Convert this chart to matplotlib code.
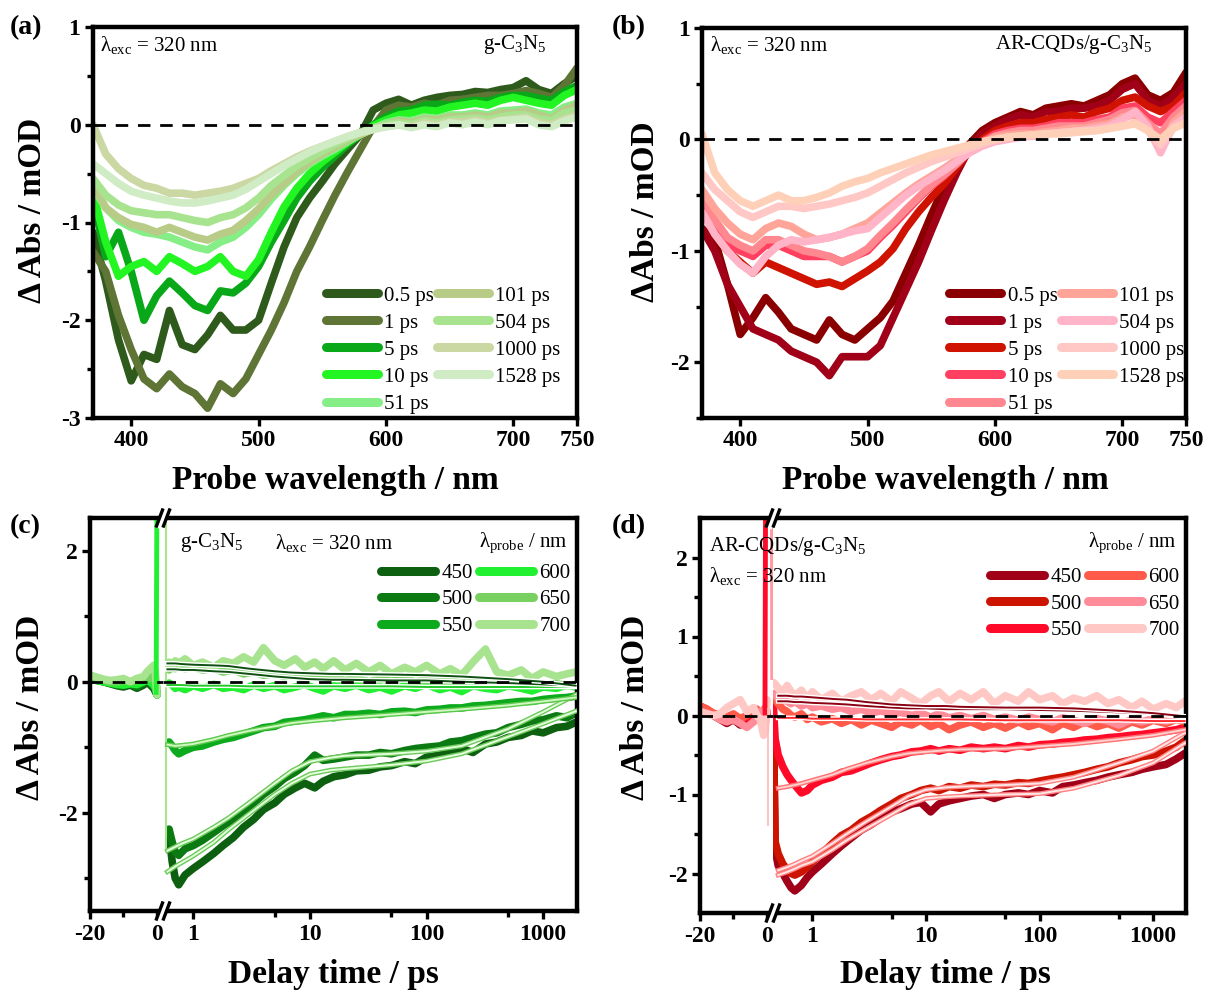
import numpy as np
import matplotlib
matplotlib.use('Agg')
from matplotlib import pyplot as plt
from matplotlib.lines import Line2D
from matplotlib.ticker import MultipleLocator, NullFormatter
import matplotlib.patheffects as pe

plt.rcParams['font.family'] = 'Liberation Serif'
plt.rcParams['font.weight'] = 'bold'
plt.rcParams['mathtext.fontset'] = 'custom'
plt.rcParams['mathtext.rm'] = 'Liberation Serif:weight=normal'
plt.rcParams['mathtext.it'] = 'Liberation Serif:italic:weight=normal'
plt.rcParams['mathtext.bf'] = 'Liberation Serif:bold'
plt.rcParams['axes.unicode_minus'] = False

# ---------------- spectra (a), (b) ----------------
wl = np.arange(370, 751, 10)
delay_labels = ['0.5 ps', '1 ps', '5 ps', '10 ps', '51 ps', '101 ps', '504 ps', '1000 ps', '1528 ps']

a_05 = [-1.1, -1.6, -2.2, -2.62, -2.35, -2.4, -1.9, -2.25, -2.3, -2.15,
        -1.95, -2.1, -2.1, -2.0, -1.62, -1.25, -0.95, -0.75, -0.58, -0.4,
        -0.25, -0.1, 0.15, 0.22, 0.26, 0.2, 0.25, 0.28, 0.3, 0.31,
        0.34, 0.33, 0.36, 0.38, 0.45, 0.36, 0.32, 0.42, 0.5]
a_1 = [-1.3, -1.5, -1.95, -2.3, -2.6, -2.7, -2.55, -2.68, -2.75, -2.9,
       -2.65, -2.75, -2.6, -2.35, -2.1, -1.82, -1.5, -1.25, -0.98, -0.72,
       -0.48, -0.25, -0.02, 0.15, 0.2, 0.18, 0.22, 0.2, 0.25, 0.26,
       0.28, 0.3, 0.3, 0.32, 0.35, 0.32, 0.28, 0.4, 0.58]
a_5 = [-0.75, -1.35, -1.1, -1.5, -2.0, -1.75, -1.6, -1.72, -1.85, -1.9,
       -1.7, -1.72, -1.62, -1.45, -1.2, -0.98, -0.75, -0.58, -0.44, -0.32,
       -0.2, -0.1, 0.0, 0.08, 0.14, 0.15, 0.2, 0.21, 0.2, 0.23,
       0.25, 0.24, 0.28, 0.3, 0.3, 0.27, 0.25, 0.34, 0.4]
a_10 = [-0.7, -1.2, -1.55, -1.45, -1.4, -1.5, -1.35, -1.42, -1.5, -1.45,
        -1.35, -1.5, -1.55, -1.38, -1.1, -0.84, -0.65, -0.5, -0.38, -0.28,
        -0.18, -0.09, -0.01, 0.05, 0.1, 0.12, 0.15, 0.14, 0.18, 0.2,
        0.22, 0.2, 0.25, 0.28, 0.25, 0.22, 0.2, 0.3, 0.36]
a_51 = [-0.65, -0.85, -0.98, -1.05, -1.1, -1.12, -1.15, -1.2, -1.25, -1.28,
        -1.2, -1.15, -1.05, -0.92, -0.76, -0.62, -0.5, -0.4, -0.32, -0.25,
        -0.17, -0.1, -0.04, 0.02, 0.05, 0.04, 0.08, 0.06, 0.1, 0.1,
        0.12, 0.1, 0.14, 0.15, 0.16, 0.12, 0.1, 0.18, 0.22]
a_101 = [-0.6, -0.85, -0.95, -1.02, -1.05, -1.1, -1.05, -1.1, -1.15, -1.18,
         -1.12, -1.08, -0.98, -0.86, -0.72, -0.6, -0.48, -0.38, -0.3, -0.23,
         -0.16, -0.1, -0.04, 0.0, 0.04, 0.02, 0.06, 0.05, 0.08, 0.08,
         0.1, 0.08, 0.12, 0.12, 0.14, 0.1, 0.06, 0.15, 0.2]
a_504 = [-0.55, -0.72, -0.82, -0.88, -0.9, -0.92, -0.92, -0.95, -0.98, -1.0,
         -0.95, -0.92, -0.85, -0.75, -0.62, -0.52, -0.42, -0.34, -0.27, -0.2,
         -0.14, -0.08, -0.03, 0.0, 0.02, 0.0, 0.04, 0.02, 0.05, 0.06,
         0.07, 0.05, 0.08, 0.1, 0.1, 0.06, 0.04, 0.12, 0.15]
a_1000 = [0.0, -0.3, -0.45, -0.55, -0.62, -0.65, -0.7, -0.7, -0.72, -0.7,
          -0.68, -0.65, -0.6, -0.55, -0.47, -0.4, -0.33, -0.27, -0.22, -0.17,
          -0.12, -0.08, -0.04, -0.02, 0.0, -0.02, 0.02, 0.0, 0.03, 0.03,
          0.05, 0.02, 0.05, 0.06, 0.08, 0.02, 0.0, 0.06, 0.1]
a_1528 = [-0.4, -0.5, -0.6, -0.68, -0.72, -0.75, -0.78, -0.8, -0.8, -0.78,
          -0.75, -0.72, -0.66, -0.58, -0.5, -0.42, -0.35, -0.28, -0.22, -0.17,
          -0.12, -0.08, -0.05, -0.02, 0.0, -0.03, 0.0, -0.02, 0.02, 0.0,
          0.03, 0.0, 0.04, 0.05, 0.06, 0.0, -0.02, 0.04, 0.08]

b_05 = [-0.8, -0.9, -1.3, -1.75, -1.6, -1.42, -1.55, -1.7, -1.75, -1.8,
        -1.62, -1.75, -1.8, -1.7, -1.6, -1.45, -1.2, -0.95, -0.68, -0.42,
        -0.2, -0.04, 0.08, 0.15, 0.2, 0.25, 0.22, 0.28, 0.3, 0.32,
        0.3, 0.35, 0.4, 0.5, 0.55, 0.4, 0.35, 0.42, 0.6]
b_1 = [-0.8, -1.0, -1.3, -1.5, -1.7, -1.75, -1.8, -1.9, -1.95, -2.0,
       -2.12, -1.95, -1.95, -1.95, -1.85, -1.6, -1.35, -1.1, -0.82, -0.55,
       -0.3, -0.08, 0.05, 0.12, 0.18, 0.22, 0.2, 0.25, 0.25, 0.28,
       0.28, 0.3, 0.35, 0.45, 0.5, 0.35, 0.3, 0.38, 0.5]
b_5 = [-0.6, -0.85, -1.0, -1.1, -1.2, -1.1, -1.15, -1.2, -1.25, -1.3,
       -1.28, -1.32, -1.25, -1.18, -1.1, -0.98, -0.8, -0.65, -0.52, -0.4,
       -0.25, -0.1, 0.0, 0.08, 0.12, 0.15, 0.15, 0.18, 0.2, 0.22,
       0.2, 0.25, 0.28, 0.35, 0.38, 0.3, 0.25, 0.3, 0.42]
b_10 = [-0.55, -0.8, -0.95, -1.0, -1.05, -0.95, -0.95, -1.0, -1.05, -1.05,
        -1.05, -1.1, -1.05, -1.0, -0.88, -0.77, -0.65, -0.53, -0.42, -0.33,
        -0.22, -0.1, -0.02, 0.05, 0.08, 0.1, 0.1, 0.12, 0.15, 0.15,
        0.15, 0.18, 0.2, 0.28, 0.3, 0.2, 0.15, 0.25, 0.35]
b_51 = [-0.5, -0.72, -0.88, -0.95, -1.0, -0.9, -0.9, -0.95, -1.0, -1.02,
        -1.05, -1.1, -1.05, -0.98, -0.86, -0.75, -0.63, -0.52, -0.41, -0.32,
        -0.22, -0.1, -0.03, 0.03, 0.06, 0.08, 0.08, 0.1, 0.12, 0.12,
        0.12, 0.15, 0.18, 0.24, 0.26, 0.15, 0.05, 0.2, 0.3]
b_101 = [-0.45, -0.62, -0.75, -0.85, -0.9, -0.8, -0.75, -0.78, -0.85, -0.9,
         -0.88, -0.85, -0.8, -0.75, -0.66, -0.57, -0.48, -0.4, -0.33, -0.26,
         -0.18, -0.1, -0.04, 0.02, 0.04, 0.05, 0.05, 0.07, 0.08, 0.1,
         0.1, 0.12, 0.14, 0.2, 0.22, 0.1, -0.1, 0.15, 0.25]
b_504 = [-0.65, -0.85, -1.0, -1.12, -1.2, -1.05, -0.95, -0.9, -0.92, -0.9,
         -0.88, -0.85, -0.82, -0.8, -0.7, -0.6, -0.5, -0.42, -0.35, -0.28,
         -0.2, -0.12, -0.06, -0.02, 0.0, 0.02, 0.03, 0.05, 0.06, 0.07,
         0.08, 0.1, 0.12, 0.18, 0.25, 0.12, -0.12, 0.12, 0.2]
b_1000 = [-0.3, -0.45, -0.55, -0.65, -0.7, -0.65, -0.6, -0.6, -0.62, -0.6,
          -0.58, -0.55, -0.52, -0.48, -0.42, -0.36, -0.3, -0.25, -0.2, -0.16,
          -0.12, -0.08, -0.04, 0.0, 0.02, 0.03, 0.04, 0.05, 0.06, 0.07,
          0.08, 0.08, 0.1, 0.12, 0.15, 0.08, -0.05, 0.1, 0.15]
b_1528 = [0.05, -0.3, -0.45, -0.55, -0.6, -0.55, -0.5, -0.55, -0.55, -0.52,
          -0.48, -0.42, -0.38, -0.35, -0.3, -0.26, -0.22, -0.18, -0.14, -0.11,
          -0.08, -0.05, -0.02, 0.0, 0.02, 0.03, 0.04, 0.05, 0.05, 0.06,
          0.07, 0.08, 0.1, 0.12, 0.14, 0.08, 0.0, 0.1, 0.15]

green9 = ['#2e5a1c', '#5e7535', '#08a818', '#22f522', '#86ee86',
          '#b8cc88', '#a8e490', '#ccd8a4', '#d0ecc4']
red9 = ['#8a0000', '#a00018', '#d01200', '#ff4060', '#ff8890',
        '#ffa498', '#ffb4c8', '#ffc8c4', '#ffd0b8']

# ---------------- kinetics (c), (d) ----------------
probe_labels = ['450', '500', '550', '600', '650', '700']
t_pre = [-20, -18, -16, -14, -12, -10, -8, -6, -4, -3, -2, -1, -0.5, 0.0]

c_pre = [
    [0.05, 0.03, 0.0, -0.03, -0.06, -0.08, -0.05, -0.1, -0.05, 0.0, -0.05, -0.1, -0.15, -0.2],
    [0.05, 0.02, 0.0, -0.02, -0.05, -0.06, -0.04, -0.08, -0.02, 0.02, -0.03, -0.08, -0.1, -0.15],
    [0.08, 0.05, 0.02, 0.0, -0.03, -0.05, -0.03, -0.05, 0.0, 0.05, 0.0, -0.05, -0.1, -0.2],
    [0.05, 0.02, 0.0, -0.02, -0.04, -0.05, -0.03, -0.04, 0.0, 0.03, 0.0, -0.05, -0.08, -0.2],
    [0.1, 0.06, 0.03, 0.0, 0.0, 0.02, 0.0, 0.02, 0.05, 0.08, 0.05, 0.1, 0.05, -0.1],
    [0.1, 0.07, 0.04, 0.02, 0.03, 0.05, 0.0, 0.05, 0.08, 0.15, 0.2, 0.25, 0.15, -0.2],
]
tc = [0.62, 0.66, 0.7, 0.75, 0.85, 1.0, 1.2, 1.5, 1.8, 2.2,
      2.7, 3.3, 4.0, 5.0, 6.0, 7.5, 9.0, 11, 13, 16,
      20, 25, 32, 40, 50, 65, 80, 100, 130, 160,
      200, 250, 320, 400, 500, 650, 800, 1000, 1300, 1600, 1900]
c450 = [-2.35, -2.75, -3.0, -3.1, -2.95, -2.85, -2.75, -2.62, -2.5, -2.38,
        -2.22, -2.1, -1.95, -1.85, -1.72, -1.62, -1.55, -1.62, -1.52, -1.45,
        -1.42, -1.36, -1.35, -1.3, -1.28, -1.22, -1.25, -1.15, -1.12, -1.05,
        -1.02, -1.08, -0.95, -0.92, -0.85, -0.82, -0.75, -0.78, -0.7, -0.68, -0.62]
c500 = [-2.25, -2.45, -2.6, -2.65, -2.55, -2.5, -2.42, -2.3, -2.2, -2.1,
        -1.98, -1.85, -1.72, -1.6, -1.48, -1.38, -1.28, -1.12, -1.2, -1.18,
        -1.15, -1.12, -1.12, -1.08, -1.1, -1.05, -1.02, -1.0, -0.98, -0.92,
        -0.9, -0.85, -0.8, -0.78, -0.7, -0.65, -0.6, -0.58, -0.52, -0.55, -0.48]
c550 = [-0.92, -0.98, -1.05, -1.1, -1.05, -1.0, -0.98, -0.92, -0.88, -0.85,
        -0.8, -0.75, -0.7, -0.68, -0.62, -0.6, -0.58, -0.55, -0.52, -0.55,
        -0.5, -0.5, -0.48, -0.5, -0.46, -0.45, -0.47, -0.43, -0.42, -0.4,
        -0.4, -0.37, -0.36, -0.34, -0.32, -0.3, -0.3, -0.27, -0.25, -0.24, -0.22]
c600 = [-0.02, -0.05, -0.1, -0.08, -0.12, -0.06, -0.1, -0.04, -0.1, -0.08,
        -0.12, -0.05, -0.1, -0.06, -0.12, -0.08, -0.04, -0.1, -0.14, -0.06,
        -0.1, -0.05, -0.12, -0.08, -0.14, -0.06, -0.1, -0.04, -0.12, -0.08,
        -0.15, -0.06, -0.1, -0.12, -0.06, -0.1, -0.14, -0.08, -0.1, -0.05, -0.08]
c650 = [0.18, 0.22, 0.2, 0.25, 0.2, 0.22, 0.18, 0.2, 0.15, 0.18,
        0.12, 0.15, 0.1, 0.12, 0.08, 0.1, 0.05, 0.08, 0.04, 0.06,
        0.02, 0.05, 0.0, 0.04, 0.02, 0.05, 0.0, 0.03, 0.0, 0.02,
        -0.02, 0.02, 0.0, -0.03, 0.0, -0.04, -0.02, -0.05, -0.03, -0.06, -0.04]
c700 = [0.3, 0.25, 0.32, 0.28, 0.35, 0.25, 0.3, 0.22, 0.32, 0.28,
        0.38, 0.3, 0.52, 0.32, 0.25, 0.35, 0.22, 0.3, 0.2, 0.32,
        0.18, 0.28, 0.15, 0.25, 0.12, 0.22, 0.15, 0.25, 0.12, 0.2,
        0.1, 0.3, 0.5, 0.15, 0.1, 0.18, 0.05, 0.15, 0.08, 0.12, 0.15]
tfit_c = [0.6, 0.7, 0.8, 1, 1.5, 2, 3, 5, 7, 10, 15, 20, 50, 100, 200, 500, 1000, 1900]
fit_c = [
    [-2.9, -2.82, -2.76, -2.66, -2.45, -2.26, -2.02, -1.72, -1.55, -1.41, -1.35, -1.33, -1.27, -1.21, -1.1, -0.84, -0.64, -0.45],
    [-2.58, -2.52, -2.47, -2.4, -2.22, -2.08, -1.85, -1.55, -1.36, -1.22, -1.16, -1.13, -1.1, -1.06, -0.98, -0.72, -0.46, -0.2],
    [-0.96, -0.98, -0.97, -0.95, -0.88, -0.82, -0.75, -0.68, -0.63, -0.6, -0.57, -0.55, -0.5, -0.46, -0.42, -0.36, -0.3, -0.24],
    [-0.05, -0.05, -0.05, -0.06, -0.06, -0.06, -0.07, -0.07, -0.07, -0.07, -0.07, -0.07, -0.07, -0.08, -0.08, -0.08, -0.08, -0.08],
    [0.19, 0.19, 0.18, 0.18, 0.16, 0.15, 0.12, 0.08, 0.06, 0.04, 0.03, 0.03, 0.02, 0.02, 0.0, -0.02, -0.04, -0.06],
    [0.28, 0.28, 0.27, 0.26, 0.25, 0.24, 0.2, 0.16, 0.14, 0.13, 0.12, 0.12, 0.11, 0.1, 0.08, 0.04, 0.0, -0.06],
]
# coherent artefact around time zero
c_spike_t, c_spike_y = [-0.25, 0.0, 0.25], [-0.2, 3.0, 3.0]
c_thin_t, c_thin_y = [0.58, 0.58], [3.0, -2.55]

d_pre = [
    [0.1, 0.05, 0.0, -0.05, -0.1, -0.05, -0.12, -0.08, -0.02, 0.0, -0.05, 0.0, 0.05, 0.0],
    [0.12, 0.08, 0.02, -0.02, -0.05, -0.02, -0.08, -0.05, 0.0, 0.02, -0.02, 0.02, 0.05, 0.02],
    [0.1, 0.06, 0.02, 0.0, -0.03, 0.0, -0.05, -0.03, 0.02, 0.05, 0.0, 0.02, 0.08, 0.05],
    [0.12, 0.08, 0.03, 0.0, -0.02, 0.02, -0.04, 0.0, 0.05, 0.08, 0.02, 0.05, 0.1, 0.05],
    [0.05, 0.03, 0.0, -0.05, -0.08, -0.05, -0.1, -0.15, -0.08, -0.05, 0.05, 0.0, -0.1, 0.05],
    [0.05, 0.02, 0.0, 0.02, 0.1, 0.15, 0.2, 0.05, 0.1, 0.0, -0.05, -0.25, -0.2, 0.2],
]
td = [0.45, 0.47, 0.5, 0.55, 0.6, 0.65, 0.7, 0.8, 0.9, 1.0,
      1.2, 1.5, 1.8, 2.2, 2.7, 3.3, 4.0, 5.0, 6.0, 7.5,
      9.0, 11, 13, 16, 20, 25, 32, 40, 50, 65,
      80, 100, 130, 160, 200, 250, 320, 400, 500, 650,
      800, 1000, 1300, 1600, 1900]
d450 = [0.2, -1.7, -1.9, -2.0, -2.1, -2.18, -2.22, -2.15, -2.05, -1.98,
        -1.88, -1.75, -1.65, -1.55, -1.45, -1.38, -1.3, -1.22, -1.18, -1.12,
        -1.1, -1.22, -1.12, -1.08, -1.05, -1.02, -1.0, -1.05, -1.0, -0.98,
        -1.0, -0.95, -0.98, -0.9, -0.88, -0.85, -0.82, -0.78, -0.75, -0.72,
        -0.68, -0.65, -0.62, -0.55, -0.48]
d500 = [0.15, -1.6, -1.75, -1.88, -1.95, -2.0, -2.02, -1.98, -1.92, -1.85,
        -1.75, -1.62, -1.52, -1.45, -1.35, -1.28, -1.2, -1.12, -1.05, -1.0,
        -0.95, -0.92, -0.95, -0.9, -0.92, -0.88, -0.9, -0.87, -0.88, -0.85,
        -0.86, -0.83, -0.8, -0.78, -0.75, -0.72, -0.68, -0.65, -0.6, -0.56,
        -0.52, -0.5, -0.45, -0.4, -0.32]
d550 = [0.2, -0.3, -0.5, -0.65, -0.75, -0.82, -0.88, -0.98, -0.95, -0.88,
        -0.82, -0.78, -0.72, -0.7, -0.65, -0.6, -0.56, -0.52, -0.5, -0.46,
        -0.45, -0.42, -0.45, -0.42, -0.44, -0.4, -0.42, -0.4, -0.42, -0.38,
        -0.4, -0.37, -0.36, -0.34, -0.33, -0.31, -0.3, -0.28, -0.27, -0.25,
        -0.24, -0.22, -0.2, -0.18, -0.15]
d600 = [0.25, 0.2, 0.15, 0.08, 0.05, 0.0, -0.02, 0.02, -0.05, -0.02,
        -0.08, -0.04, -0.1, -0.05, -0.12, -0.06, -0.1, -0.15, -0.08, -0.12,
        -0.06, -0.14, -0.1, -0.18, -0.12, -0.08, -0.15, -0.1, -0.16, -0.08,
        -0.14, -0.1, -0.18, -0.1, -0.15, -0.08, -0.14, -0.1, -0.16, -0.08,
        -0.12, -0.06, -0.1, -0.05, -0.08]
d650 = [0.28, 0.25, 0.22, 0.2, 0.18, 0.15, 0.18, 0.12, 0.15, 0.1,
        0.12, 0.08, 0.1, 0.05, 0.08, 0.03, 0.06, 0.02, 0.04, 0.0,
        0.03, -0.02, 0.02, -0.03, 0.0, -0.04, 0.0, -0.05, -0.02, -0.06,
        -0.02, -0.05, -0.08, -0.03, -0.06, -0.1, -0.04, -0.07, -0.12, -0.05,
        -0.08, -0.04, -0.07, -0.03, -0.05]
d700 = [0.42, 0.4, 0.35, 0.3, 0.38, 0.3, 0.25, 0.32, 0.22, 0.3,
        0.2, 0.28, 0.18, 0.25, 0.3, 0.2, 0.28, 0.18, 0.3, 0.22,
        0.15, 0.25, 0.3, 0.18, 0.28, 0.2, 0.3, 0.15, 0.25, 0.18,
        0.3, 0.2, 0.25, 0.15, 0.22, 0.18, 0.25, 0.15, 0.2, 0.1,
        0.18, 0.08, 0.15, 0.1, 0.18]
tfit_d = [0.5, 0.6, 0.7, 0.8, 1, 1.5, 2, 3, 5, 7, 10, 15, 20, 50, 100, 200, 500, 1000, 1900]
fit_d = [
    [-2.02, -1.98, -1.94, -1.9, -1.85, -1.7, -1.58, -1.43, -1.25, -1.13, -1.05, -1.03, -1.02, -1.0, -0.99, -0.92, -0.76, -0.6, -0.35],
    [-1.96, -1.92, -1.88, -1.84, -1.78, -1.62, -1.5, -1.34, -1.15, -1.02, -0.94, -0.91, -0.9, -0.88, -0.86, -0.78, -0.6, -0.45, -0.22],
    [-0.92, -0.9, -0.88, -0.86, -0.82, -0.75, -0.68, -0.6, -0.52, -0.48, -0.46, -0.44, -0.43, -0.42, -0.39, -0.36, -0.3, -0.25, -0.18],
    [-0.03, -0.03, -0.03, -0.03, -0.04, -0.04, -0.04, -0.05, -0.05, -0.05, -0.05, -0.05, -0.05, -0.06, -0.06, -0.06, -0.06, -0.07, -0.07],
    [0.18, 0.18, 0.17, 0.17, 0.16, 0.15, 0.14, 0.12, 0.1, 0.09, 0.09, 0.08, 0.08, 0.08, 0.07, 0.06, 0.04, 0.02, -0.02],
    [0.25, 0.25, 0.24, 0.24, 0.23, 0.21, 0.2, 0.17, 0.14, 0.13, 0.12, 0.12, 0.11, 0.1, 0.1, 0.09, 0.06, 0.03, -0.01],
]
d_spike_t, d_spike_y = [-0.6, -0.4, -0.2], [0.0, 3.0, 3.0]
d_thin_t, d_thin_y = [0.4, 0.4], [0.1, -1.4]
d_spike2_t, d_spike2_y = [1.4, 1.5], [3.0, 0.45]

green6 = ['#0c6010', '#0b7a12', '#0caa1c', '#20f030', '#78d060', '#a8e490']
red6 = ['#a00018', '#cc1400', '#ff0a28', '#ff5a4a', '#ff8c98', '#ffc8c4']
fitcore_c = ['#e4ffdc', '#e4ffdc', '#d0f8c0', '#22c82a', '#0e4f12', '#0e4f12']
fitedge_c = ['#6cc85a', '#6cc85a', '#5ac84a', 'white', 'white', 'white']
fitcore_d = ['#ffe6e6', '#ffe6e6', '#ffd0d0', '#ff2a30', '#8a0012', '#8a0012']
fitedge_d = ['#ff8080', '#ff8080', '#ff7070', 'white', 'white', 'white']

# ---------------- layout ----------------
W, H = 1211, 992
fig = plt.figure(figsize=(W / 100, H / 100), dpi=100)


def box(l, t, r, b):
    return [l / W, 1 - b / H, (r - l) / W, (b - t) / H]


def style(ax, hide=()):
    for s in ax.spines:
        ax.spines[s].set_linewidth(3.2)
    for s in hide:
        ax.spines[s].set_visible(False)
    ax.tick_params(which='both', direction='out', width=2.4, labelsize=17,
                   top=False, right=False, pad=3)
    ax.tick_params(which='major', length=6)
    ax.tick_params(which='minor', length=4)


def ftext(x, y, s, **kw):
    kw.setdefault('fontweight', 'normal')
    kw.setdefault('fontsize', 15)
    kw.setdefault('va', 'center')
    fig.text(x / W, 1 - y / H, s, **kw)


lw_data = 5.5
kw_line = dict(solid_capstyle='round', solid_joinstyle='round')
dash = dict(color='k', lw=2.0, ls=(0, (4.5, 3.5)), zorder=6)
leg_kw = dict(ncol=2, frameon=False, prop={'weight': 'normal', 'size': 15},
              handletextpad=0.3, borderpad=0.2, borderaxespad=0.0)


def spectra(ax, ys, cols, ylim, yminor):
    for y, c, lab in zip(ys, cols, delay_labels):
        ax.plot(wl, y, color=c, lw=lw_data, label=lab, **kw_line)
    ax.axhline(0, **dash)
    ax.set_xlim(370, 750)
    ax.set_ylim(*ylim)
    ax.set_xticks([400, 500, 600, 700, 750])
    ax.yaxis.set_major_locator(MultipleLocator(1))
    ax.yaxis.set_minor_locator(MultipleLocator(yminor))
    style(ax)


axa = fig.add_axes(box(93, 27, 577, 418))
spectra(axa, [a_05, a_1, a_5, a_10, a_51, a_101, a_504, a_1000, a_1528], green9, (-3, 1), 0.5)
axb = fig.add_axes(box(702, 28, 1186, 418))
spectra(axb, [b_05, b_1, b_5, b_10, b_51, b_101, b_504, b_1000, b_1528], red9, (-2.5, 1), 0.5)

for ax, anchor in ((axa, (0.975, 0.0)), (axb, (1.005, 0.0))):
    leg = ax.legend(loc='lower right', bbox_to_anchor=anchor, handlelength=2.5,
                    labelspacing=0.36, columnspacing=0.15, **leg_kw)
    for l in leg.get_lines():
        l.set_linewidth(6.5)


def kinetics(l, brk, r, t, b, pre, tl, ys, tf, fits, cols, fcore, fedge,
             ylim, ymaj, ymin, logmin, arts):
    axL = fig.add_axes(box(l, t, brk, b))
    axR = fig.add_axes(box(brk, t, r, b))
    for k in range(6):
        axL.plot(t_pre, pre[k], color=cols[k], lw=lw_data, **kw_line)
        axR.plot(tl, ys[k], color=cols[k], lw=lw_data, label=probe_labels[k], **kw_line)
    for (ax_i, tt, yy, c, w) in arts:
        [axL, axR][ax_i].plot(tt, yy, color=c, lw=w, solid_capstyle='butt')
    for k in range(6):
        axR.plot(tf, fits[k], color=fcore[k], lw=1.4, zorder=4,
                 path_effects=[pe.Stroke(linewidth=3.4, foreground=fedge[k]), pe.Normal()])
    for ax in (axL, axR):
        ax.axhline(0, **dash)
        ax.set_ylim(*ylim)
    axL.set_xlim(-20, 1.8)
    axL.set_xticks([-20, 0])
    axL.set_xticks([-10], minor=True)
    axL.set_yticks(ymaj)
    axL.set_yticks(ymin, minor=True)
    axR.set_xscale('log')
    axR.set_xlim(logmin, 1950)
    axR.set_xticks([1, 10, 100, 1000], labels=['1', '10', '100', '1000'])
    axR.set_xticks([5, 50, 500], minor=True)
    axR.xaxis.set_minor_formatter(NullFormatter())
    style(axL, hide=('right',))
    style(axR, hide=('left',))
    axR.tick_params(axis='y', which='both', left=False, labelleft=False)
    # break marks
    for yp in (t, b):
        for dx, c, w in ((0, 'white', 4.0), (-3.5, 'k', 2.4), (3.5, 'k', 2.4)):
            fig.add_artist(Line2D([(brk + dx - 3) / W, (brk + dx + 3) / W],
                                  [1 - (yp + 8) / H, 1 - (yp - 8) / H],
                                  color=c, lw=w, zorder=20))
    return axL, axR


cL, cR = kinetics(90, 163, 577, 518, 911, c_pre, tc, [c450, c500, c550, c600, c650, c700],
                  tfit_c, fit_c, green6, fitcore_c, fitedge_c, (-3.5, 2.5),
                  [-2, 0, 2], [-3, -1, 1], 0.55,
                  [(0, c_spike_t, c_spike_y, green6[3], 3.5),
                   (1, c_thin_t, c_thin_y, green6[5], 1.5)])
dL, dR = kinetics(700, 773, 1186, 518, 913, d_pre, td, [d450, d500, d550, d600, d650, d700],
                  tfit_d, fit_d, red6, fitcore_d, fitedge_d, (-2.5, 2.5),
                  [-2, -1, 0, 1, 2], [-1.5, -0.5, 0.5, 1.5], 0.45,
                  [(0, d_spike_t, d_spike_y, red6[2], 3.5),
                   (0, d_thin_t, d_thin_y, '#ffb8b8', 1.2),
                   (0, d_spike2_t, d_spike2_y, '#ff9aa0', 2.5)])

for ax, anchor in ((cR, (0.995, 0.895)), (dR, (0.995, 0.885))):
    leg = ax.legend(loc='upper right', bbox_to_anchor=anchor, handlelength=2.6,
                    labelspacing=0.33, columnspacing=0.3, **leg_kw)
    for l in leg.get_lines():
        l.set_linewidth(6.5)
        l.set_path_effects([])

# ---------------- texts ----------------
exc = r'λ$_{\mathrm{exc}}$ = 320 nm'
probe = r'λ$_{\mathrm{probe}}$ / nm'
ftext(100, 45, exc)
ftext(546, 45, r'g-C$_3$N$_5$', ha='right')
ftext(710, 45, exc)
ftext(1152, 45, r'AR-CQDs/g-C$_3$N$_5$', ha='right')
ftext(180, 543, r'g-C$_3$N$_5$')
ftext(275, 543, exc)
ftext(568, 543, probe, ha='right')
ftext(709, 546, r'AR-CQDs/g-C$_3$N$_5$')
ftext(709, 576, exc)
ftext(1177, 543, probe, ha='right')

for x, y, s in ((10, 28, '(a)'), (612, 28, '(b)'), (10, 527, '(c)'), (612, 527, '(d)')):
    ftext(x, y, s, fontweight='bold', fontsize=20)

ftext(33, 210, 'Δ Abs / mOD', fontweight='bold', fontsize=24, rotation=90, ha='center')
ftext(645, 212, 'ΔAbs / mOD', fontweight='bold', fontsize=24, rotation=90, ha='center')
ftext(31, 707, 'Δ Abs / mOD', fontweight='bold', fontsize=24, rotation=90, ha='center')
ftext(635, 707, 'Δ Abs / mOD', fontweight='bold', fontsize=24, rotation=90, ha='center')
ftext(335, 480, 'Probe wavelength / nm', fontweight='bold', fontsize=24, ha='center')
ftext(945, 480, 'Probe wavelength / nm', fontweight='bold', fontsize=24, ha='center')
ftext(333, 974, 'Delay time / ps', fontweight='bold', fontsize=24, ha='center')
ftext(945, 974, 'Delay time / ps', fontweight='bold', fontsize=24, ha='center')

fig.savefig('out.png', dpi=100)
